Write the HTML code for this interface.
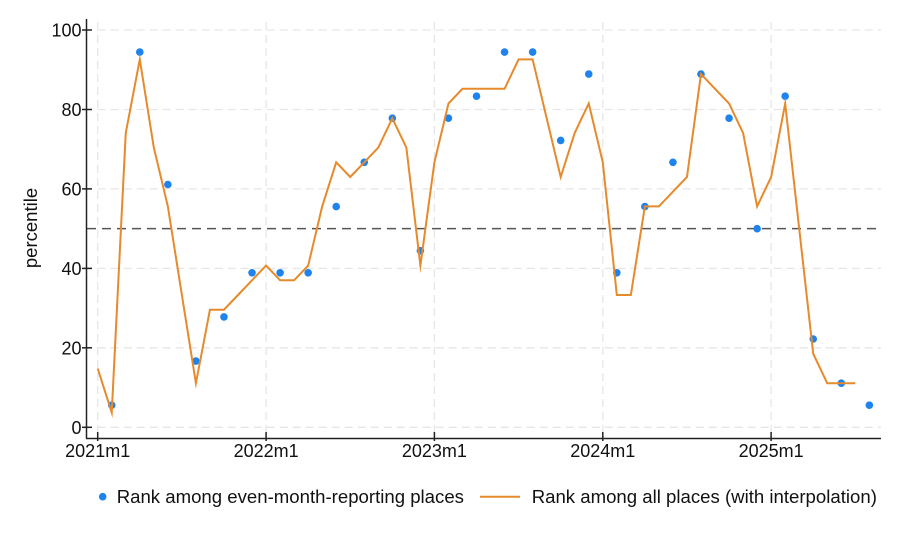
<!DOCTYPE html>
<html><head><meta charset="utf-8"><style>
html,body{margin:0;padding:0;background:#fff;}
svg{display:block;}
text{font-family:"Liberation Sans",Arial,sans-serif;fill:#111;}
</style></head><body>
<svg width="900" height="540" viewBox="0 0 900 540" xmlns="http://www.w3.org/2000/svg">
<rect x="0" y="0" width="900" height="540" fill="#fff"/>
<!-- grid -->
<g stroke="#e6e6e6" stroke-width="1.3" stroke-dasharray="8,5" fill="none">
<line x1="97.7" y1="427.3" x2="881" y2="427.3"/>
<line x1="97.7" y1="347.8" x2="881" y2="347.8"/>
<line x1="97.7" y1="268.4" x2="881" y2="268.4"/>
<line x1="97.7" y1="188.9" x2="881" y2="188.9"/>
<line x1="97.7" y1="109.5" x2="881" y2="109.5"/>
<line x1="97.7" y1="30" x2="881" y2="30"/>
<line x1="97.7" y1="22" x2="97.7" y2="438"/>
<line x1="266.1" y1="22" x2="266.1" y2="438"/>
<line x1="434.4" y1="22" x2="434.4" y2="438"/>
<line x1="602.8" y1="22" x2="602.8" y2="438"/>
<line x1="771.1" y1="22" x2="771.1" y2="438"/>
</g>
<!-- reference line at 50 -->
<line x1="87" y1="228.65" x2="881" y2="228.65" stroke="#555" stroke-width="1.5" stroke-dasharray="9,6"/>
<!-- axes -->
<g stroke="#222" stroke-width="1.5" fill="none">
<line x1="86.5" y1="19" x2="86.5" y2="438.5"/>
<line x1="86" y1="438.5" x2="881" y2="438.5"/>
<line x1="82" y1="427.3" x2="92" y2="427.3"/>
<line x1="82" y1="347.8" x2="92" y2="347.8"/>
<line x1="82" y1="268.4" x2="92" y2="268.4"/>
<line x1="82" y1="188.9" x2="92" y2="188.9"/>
<line x1="82" y1="109.5" x2="92" y2="109.5"/>
<line x1="82" y1="30" x2="92" y2="30"/>
<line x1="97.7" y1="432" x2="97.7" y2="441"/>
<line x1="266.1" y1="432" x2="266.1" y2="441"/>
<line x1="434.4" y1="432" x2="434.4" y2="441"/>
<line x1="602.8" y1="432" x2="602.8" y2="441"/>
<line x1="771.1" y1="432" x2="771.1" y2="441"/>
</g>
<!-- y tick labels -->
<g font-size="18" text-anchor="end">
<text x="81.5" y="433.8">0</text>
<text x="81.5" y="354.3">20</text>
<text x="81.5" y="274.9">40</text>
<text x="81.5" y="195.4">60</text>
<text x="81.5" y="116">80</text>
<text x="81.5" y="36.5">100</text>
</g>
<!-- x tick labels -->
<g font-size="18" text-anchor="middle">
<text x="97.7" y="457">2021m1</text>
<text x="266.1" y="457">2022m1</text>
<text x="434.4" y="457">2023m1</text>
<text x="602.8" y="457">2024m1</text>
<text x="771.1" y="457">2025m1</text>
</g>
<text x="37" y="228" font-size="18.5" text-anchor="middle" transform="rotate(-90 37 228)">percentile</text>
<!-- blue dots -->
<g fill="#1e83ec">
<circle cx="111.73" cy="405.2" r="3.8"/>
<circle cx="139.79" cy="52.1" r="3.8"/>
<circle cx="167.85" cy="184.5" r="3.8"/>
<circle cx="195.91" cy="361.1" r="3.8"/>
<circle cx="223.97" cy="316.9" r="3.8"/>
<circle cx="252.03" cy="272.8" r="3.8"/>
<circle cx="280.09" cy="272.8" r="3.8"/>
<circle cx="308.15" cy="272.8" r="3.8"/>
<circle cx="336.21" cy="206.6" r="3.8"/>
<circle cx="364.27" cy="162.3" r="3.8"/>
<circle cx="392.33" cy="118.2" r="3.8"/>
<circle cx="420.39" cy="250.7" r="3.8"/>
<circle cx="448.45" cy="118.2" r="3.8"/>
<circle cx="476.51" cy="96.2" r="3.8"/>
<circle cx="504.57" cy="52.1" r="3.8"/>
<circle cx="532.63" cy="52.1" r="3.8"/>
<circle cx="560.69" cy="140.4" r="3.8"/>
<circle cx="588.75" cy="74.1" r="3.8"/>
<circle cx="616.81" cy="272.8" r="3.8"/>
<circle cx="644.87" cy="206.6" r="3.8"/>
<circle cx="672.93" cy="162.3" r="3.8"/>
<circle cx="700.99" cy="74.1" r="3.8"/>
<circle cx="729.05" cy="118.2" r="3.8"/>
<circle cx="757.11" cy="228.65" r="3.8"/>
<circle cx="785.17" cy="96.2" r="3.8"/>
<circle cx="813.23" cy="339.0" r="3.8"/>
<circle cx="841.29" cy="383.2" r="3.8"/>
<circle cx="869.35" cy="405.2" r="3.8"/>
</g>
<!-- orange line -->
<polyline fill="none" stroke="#e68a2b" stroke-width="2" stroke-linejoin="miter" stroke-miterlimit="10" points="
97.7,368.5 111.73,412.6 125.76,132.9 139.79,59.4 153.82,147.6 167.85,206.4 181.88,295.0 195.91,383.2
209.94,309.7 223.97,309.7 238.0,295.0 252.03,280.3 266.06,265.6 280.09,280.3 294.12,280.3 308.15,265.6
322.18,206.4 336.21,162.3 350.24,177.0 364.27,162.3 378.3,147.6 392.33,118.2 406.36,147.6 420.39,265.6
434.42,162.3 448.45,103.5 462.48,88.8 476.51,88.8 490.54,88.8 504.57,88.8 518.6,59.4 532.63,59.4
546.66,118.2 560.69,177.0 574.72,132.9 588.75,103.5 602.78,162.3 616.81,295.0 630.84,295.0 644.87,206.4
658.9,206.4 672.93,191.7 686.96,177.0 700.99,74.1 715.02,88.8 729.05,103.5 743.08,132.9 757.11,206.4
771.14,177.0 785.17,103.5 799.2,228.65 813.23,353.8 827.26,383.2 841.29,383.2 855.32,383.2"/>
<!-- legend -->
<circle cx="102.7" cy="496.7" r="3.8" fill="#1e83ec"/>
<text x="116.7" y="503" font-size="18.6">Rank among even-month-reporting places</text>
<line x1="480" y1="496.7" x2="520" y2="496.7" stroke="#e68a2b" stroke-width="2"/>
<text x="531.7" y="503" font-size="18.6">Rank among all places (with interpolation)</text>
</svg>
</body></html>
